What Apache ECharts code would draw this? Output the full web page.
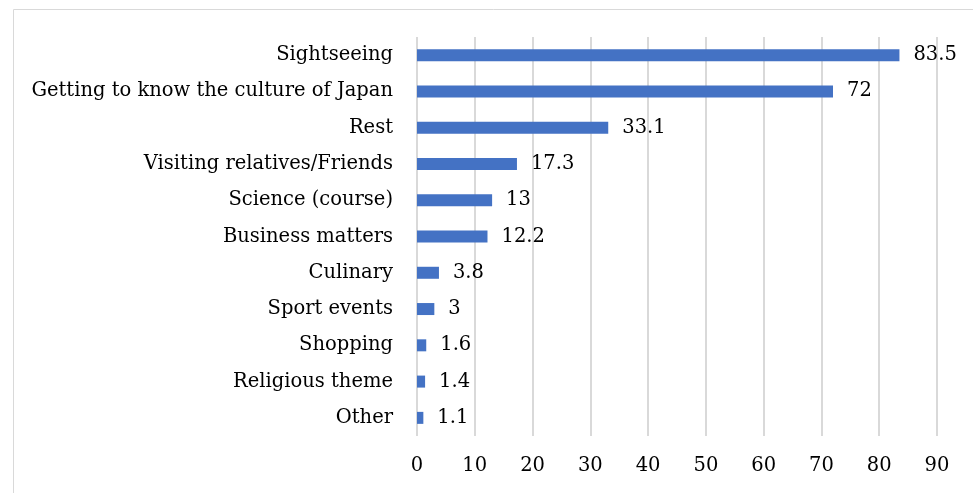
<!DOCTYPE html>
<html><head><meta charset="utf-8">
<script src="https://cdn.jsdelivr.net/npm/echarts@6/dist/echarts.min.js"></script>
<style>html,body{margin:0;padding:0;background:#fff}#c{width:973px;height:493px}</style>
</head><body><div id="c"></div>
<script>
const categories = ["Sightseeing","Getting to know the culture of Japan","Rest","Visiting relatives/Friends","Science (course)","Business matters","Culinary","Sport events","Shopping","Religious theme","Other"];
const values = [83.5,72,33.1,17.3,13,12.2,3.8,3,1.6,1.4,1.1];
const FONT = "DejaVu Serif";
const FS = 19.5;
const chart = echarts.init(document.getElementById('c'));
chart.setOption({
  animation:false,
  textStyle:{fontFamily:FONT},
  graphic:[{type:'rect',shape:{x:13.5,y:9.5,width:1000,height:1000},style:{fill:'none',stroke:'#d9d9d9',lineWidth:1}}],
  grid:{left:417,right:36,top:37,bottom:57},
  xAxis:{type:'value',min:0,max:90,interval:10,
    axisLine:{show:false},axisTick:{show:false},
    axisLabel:{fontFamily:FONT,fontSize:FS,color:'#000',margin:20},
    splitLine:{lineStyle:{color:'#d9d9d9',width:2}}},
  yAxis:{type:'category',data:categories,inverse:true,
    axisLine:{show:false},axisTick:{show:false},
    axisLabel:{fontFamily:FONT,fontSize:FS,color:'#000',margin:24}},
  series:[{type:'bar',data:values,barWidth:12,itemStyle:{color:'#4472C4'},
    label:{show:true,position:'right',distance:14,fontFamily:FONT,fontSize:FS,color:'#000'}}]
});
</script></body></html>
